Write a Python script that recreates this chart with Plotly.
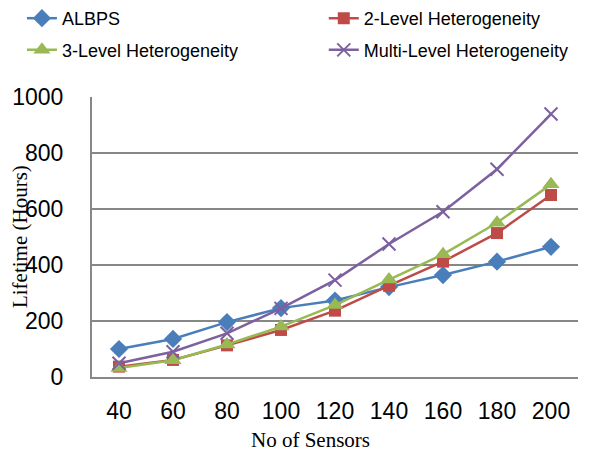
import plotly.graph_objects as go

sensors = ["40", "60", "80", "100", "120", "140", "160", "180", "200"]
albps = [100, 136, 196, 246, 273, 321, 364, 412, 465]
level2 = [37, 61, 113, 168, 237, 326, 412, 514, 650]
level3 = [32, 60, 116, 180, 257, 348, 438, 551, 688]
multi = [49, 90, 156, 245, 346, 475, 590, 742, 939]
y_ticks = [0, 200, 400, 600, 800, 1000]

series = [
    ("ALBPS", albps, "#4a7ebb", "diamond", 14, "legend"),
    ("2-Level Heterogeneity", level2, "#be4b48", "square", 12, "legend2"),
    ("3-Level Heterogeneity", level3, "#98b954", "triangle-up", 15, "legend3"),
    ("Multi-Level Heterogeneity", multi, "#7d60a0", "x-thin", 13, "legend4"),
]

fig = go.Figure()
for name, vals, color, sym, size, leg in series:
    marker = dict(symbol=sym, size=size, color=color)
    if sym == "x-thin":
        marker["line"] = dict(color=color, width=2)
    fig.add_trace(go.Scatter(
        x=sensors, y=vals, name=name, mode="lines+markers",
        line=dict(color=color, width=2.5), marker=marker, legend=leg,
    ))

legfont = dict(family="Liberation Sans, Arial", size=18, color="#000")
pos = {"legend": (0.037, 1.0), "legend2": (0.546, 1.0),
       "legend3": (0.037, 0.93), "legend4": (0.546, 0.93)}
legs = {}
for k, (x, y) in pos.items():
    legs[k] = dict(x=x, y=y, xref="container", yref="container", xanchor="left",
                   yanchor="top", font=legfont, bgcolor="rgba(0,0,0,0)",
                   itemwidth=30, tracegroupgap=0)

tickfont = dict(family="Liberation Sans, Arial", size=23, color="#000")
titlefont = dict(family="Liberation Serif, Times New Roman", size=21, color="#000")

fig.update_layout(
    width=593, height=452,
    margin=dict(l=92, r=15, t=97, b=75, autoexpand=False),
    plot_bgcolor="white", paper_bgcolor="white",
    showlegend=True,
    xaxis=dict(
        type="category", range=[-0.5, 8.5], showgrid=False,
        showline=True, linecolor="#878787", linewidth=2,
        ticks="outside", ticklen=12, tickcolor="rgba(0,0,0,0)",
        tickfont=tickfont,
    ),
    yaxis=dict(
        range=[0, 1000], tickvals=y_ticks, showgrid=True, gridcolor="#878787",
        gridwidth=2, showline=True, linecolor="#878787", linewidth=2,
        ticks="outside", ticklen=22, tickcolor="rgba(0,0,0,0)",
        zeroline=False, tickfont=tickfont,
    ),
    annotations=[
        dict(text="No of Sensors", xref="paper", yref="paper", x=0.45, y=-0.225,
             xanchor="center", yanchor="middle", showarrow=False, font=titlefont),
        dict(text="Lifetime (Hours)", xref="paper", yref="paper", x=-0.148, y=0.5,
             xanchor="center", yanchor="middle", textangle=-90, showarrow=False,
             font=titlefont),
    ],
    **legs,
)

fig.write_html("out.html")
